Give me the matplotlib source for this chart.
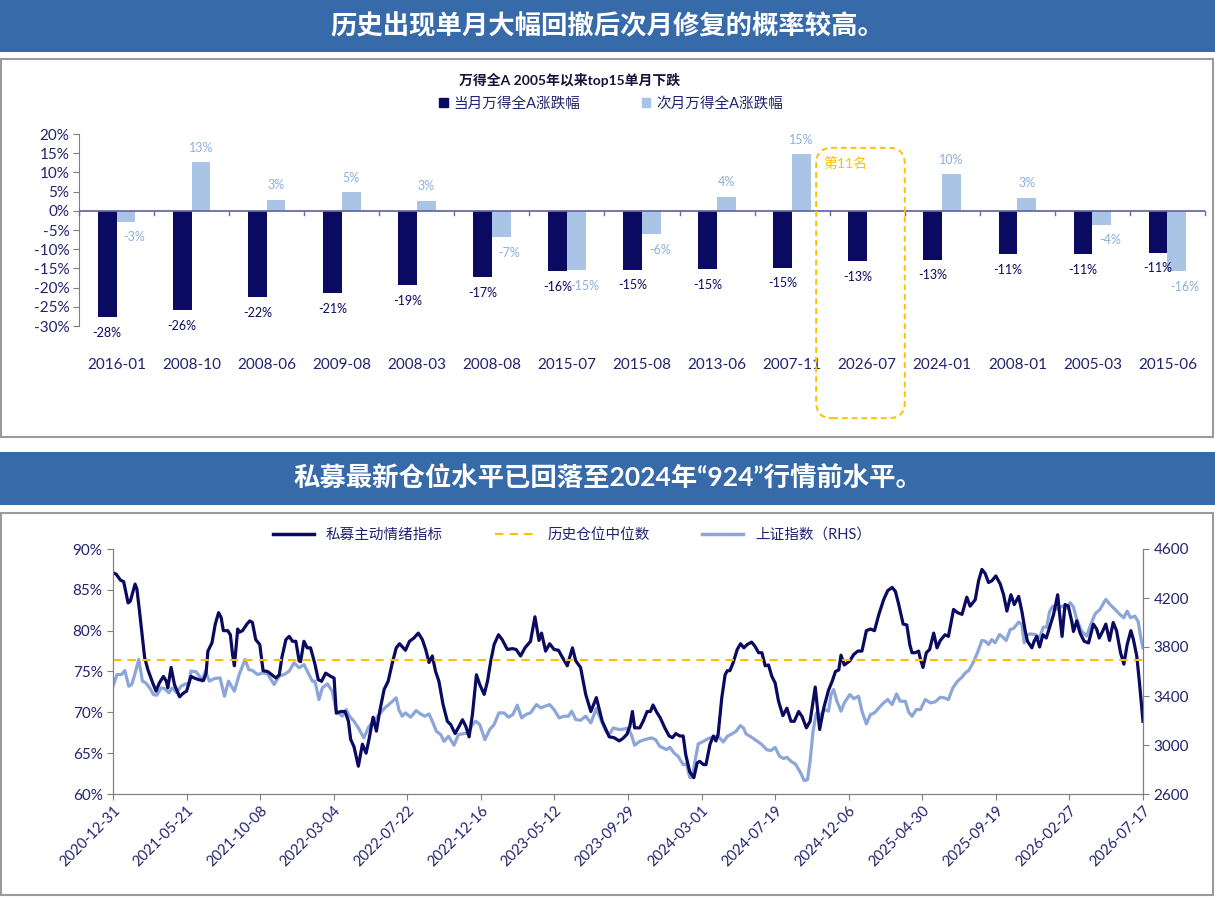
import numpy as np
import matplotlib.pyplot as plt
from matplotlib.patches import Rectangle, FancyBboxPatch, Patch
from matplotlib.lines import Line2D
from matplotlib.transforms import IdentityTransform

plt.rcParams['font.family'] = ['Lato', 'Noto Sans CJK SC', 'DejaVu Sans']

# ---------------- data ----------------
months = ['2016-01', '2008-10', '2008-06', '2009-08', '2008-03', '2008-08', '2015-07', '2015-08',
          '2013-06', '2007-11', '2026-07', '2024-01', '2008-01', '2005-03', '2015-06']
cur_ret = [-27.7, -25.9, -22.4, -21.4, -19.4, -17.3, -15.8, -15.3, -15.2, -14.8, -13.2, -12.7, -11.3, -11.3, -10.9]
next_ret = [-2.8, 12.6, 2.9, 4.9, 2.6, -6.8, -15.4, -6.1, 3.7, 14.8, np.nan, 9.5, 3.4, -3.6, -15.8]
highlight = '2026-07'

date_ticks = ['2020-12-31', '2021-05-21', '2021-10-08', '2022-03-04', '2022-07-22', '2022-12-16',
              '2023-05-12', '2023-09-29', '2024-03-01', '2024-07-19', '2024-12-06', '2025-04-30',
              '2025-09-19', '2026-02-27', '2026-07-17']

# 私募主动情绪指标 (%), x = weekly observation index
sent_week = [0, 0.9, 2, 2.9, 4.1, 4.7, 6, 6.5, 7.2, 8, 8.6, 9.5, 10.8, 11.7, 12.6, 13.7, 14.5, 14.9, 15.8, 16.7,
             18.1, 19, 20, 21.2, 22.1, 23.3, 24.6, 25.3, 25.8, 26.9, 27.8, 28.7, 29.4, 30, 31.2, 31.9, 32.5, 33,
             33.9, 34.3, 35.2, 36.4, 37.2, 37.9, 38.8, 39.9, 40.8, 42, 42.9, 44.3, 45.2, 45.9, 47, 47.9, 48.8,
             49.7, 50.6, 51, 51.9, 52.8, 53.7, 54.9, 55.8, 56.7, 57.8, 59.2, 60.1, 60.7, 61.9, 63.1, 64, 64.6,
             65.5, 66.7, 67.8, 68.8, 69.6, 70.7, 71.6, 72.5, 73.7, 74.8, 75.9, 77, 77.9, 79.5, 80.6, 81.8, 83,
             84.1, 85, 85.9, 86.8, 87.7, 88.6, 89.7, 90.9, 91.8, 93, 94.1, 95, 95.9, 96.8, 97.7, 98.8, 99.7,
             100.9, 101.8, 102.7, 103.6, 104.8, 105.8, 107.2, 108.6, 109.6, 110.8, 112, 113.5, 114.7, 115.8,
             116.5, 117.6, 118.7, 119.9, 121.1, 122.2, 123.5, 124.9, 125.8, 127.1, 128.5, 129.9, 131.4, 133,
             134.9, 136.2, 137.6, 138.6, 139.7, 140.5, 141.2, 141.8, 143.2, 144.1, 145.2, 146.1, 146.8, 147.7,
             148.8, 150, 151.2, 152.1, 153, 154.1, 155, 155.7, 156.8, 157.9, 158.8, 159.5, 160.5, 161.2, 162.3,
             163.2, 163.9, 164.5, 165.5, 166.4, 167, 167.7, 168.6, 169.7, 170.6, 171.5, 172.4, 173.6, 174.5,
             175.5, 176.4, 177.3, 178.2, 179.1, 180, 180.9, 182.1, 183.2, 184.3, 185.2, 186.4, 187.3, 188.5,
             189.5, 190.9, 192.1, 193.2, 194.5, 195.5, 196.4, 197.3, 197.9, 198.8, 200.3, 201.4, 202.5, 203.6,
             204.8, 205.9, 207, 208.2, 209.5, 210.6, 211.8, 212.7, 213.6, 214.8, 215.8, 216.6, 217.2, 218.1,
             219, 219.5, 220.2, 221.1, 222, 223.1, 224, 224.9, 226.2, 227.1, 228.5, 229.6, 230.8, 232.1, 233,
             234.4, 235.3, 236.2, 237.1, 238, 238.9, 240, 241.2, 242.1, 243, 244.1, 245, 246.2, 247.1, 248,
             248.6, 249.8, 250.4, 251.1, 251.9, 252.8, 253.7, 254.6, 255.7, 256.8, 257.3, 258, 258.8, 259.7,
             260.6, 261.1, 262, 262.9, 264, 265.2, 266.5, 267.4, 268.1, 269, 269.9, 270.9, 271.9, 272.8, 273.9,
             274.8, 275.7, 276.7, 277.4, 278.3, 279, 280]
sent_val = [87.1, 86.9, 86.2, 86.0, 83.4, 83.6, 85.7, 85.1, 82.4, 79.1, 76.7, 75.2, 73.6, 72.6, 73.6, 74.4, 73.8,
            73.0, 75.5, 73.4, 71.9, 72.3, 72.6, 74.4, 74.2, 74.0, 73.9, 74.8, 77.5, 78.5, 80.8, 82.2, 81.6, 80.0,
            80.0, 79.5, 77.1, 75.7, 80.2, 79.8, 80.0, 80.8, 81.2, 81.0, 78.9, 78.3, 75.1, 75.0, 74.7, 74.2, 74.6,
            76.7, 78.9, 79.3, 78.7, 78.7, 76.3, 76.2, 78.7, 77.9, 77.9, 75.9, 74.0, 73.8, 74.8, 74.4, 74.2, 69.9,
            70.1, 70.1, 68.9, 66.7, 65.8, 63.4, 66.1, 65.0, 66.7, 69.4, 67.7, 70.1, 72.8, 73.8, 76.0, 77.9, 78.4,
            77.6, 78.7, 79.1, 79.7, 78.9, 77.7, 76.1, 76.9, 75.0, 73.8, 71.0, 68.9, 68.5, 67.4, 68.3, 69.1, 68.3,
            67.0, 69.7, 74.6, 73.4, 72.2, 73.8, 76.3, 78.3, 79.5, 78.9, 77.7, 77.8, 77.7, 76.9, 77.9, 78.7, 81.7,
            78.8, 79.7, 77.5, 78.4, 77.7, 77.6, 76.7, 75.7, 77.9, 76.3, 75.5, 72.2, 70.1, 71.8, 68.9, 67.0, 66.9,
            66.5, 66.8, 67.3, 68.3, 70.1, 68.1, 68.1, 68.9, 70.1, 70.1, 70.9, 70.1, 69.3, 68.1, 67.1, 66.9, 67.4,
            67.1, 67.1, 64.8, 62.7, 62.0, 63.8, 64.0, 63.6, 63.6, 66.1, 67.1, 66.5, 67.3, 71.8, 74.6, 75.1, 75.1,
            76.1, 77.7, 78.4, 77.9, 78.3, 78.6, 78.1, 77.3, 77.3, 75.7, 75.8, 74.4, 73.6, 71.4, 69.6, 70.5, 68.9,
            68.9, 70.1, 69.5, 68.1, 68.9, 73.1, 67.9, 70.5, 72.7, 73.8, 75.0, 75.2, 77.0, 75.8, 76.3, 77.1, 77.5,
            77.5, 80.0, 80.2, 80.0, 82.0, 83.8, 84.9, 85.3, 84.8, 83.2, 80.8, 80.7, 78.3, 77.3, 77.3, 77.5, 76.5,
            75.5, 77.3, 77.7, 79.7, 77.9, 78.8, 79.5, 79.3, 82.6, 82.2, 82.0, 84.1, 83.0, 83.8, 86.1, 87.5, 87.0,
            85.9, 86.1, 86.7, 85.7, 84.4, 82.4, 84.4, 83.2, 84.2, 82.3, 79.9, 78.7, 77.9, 78.7, 79.3, 78.0, 79.5,
            79.1, 80.4, 82.0, 84.4, 82.2, 79.3, 83.2, 83.0, 81.2, 79.9, 81.2, 79.7, 78.7, 78.5, 80.8, 80.2, 79.1,
            79.9, 80.8, 78.8, 81.0, 80.0, 77.3, 75.9, 78.3, 80.0, 78.9, 76.9, 73.8, 68.9]
median_pos = 76.4

# 上证指数 (RHS)
sh_week = [0, 1.1, 2.3, 3.2, 4.3, 5.1, 5.9, 7, 8, 8.9, 10, 11, 11.9, 13.1, 14, 15.2, 16.1, 17.3, 18.5, 19.7, 20.6,
           21.2, 22.6, 23.5, 24.2, 25.1, 26.2, 27.6, 29.1, 30.3, 31.4, 33, 34.3, 35.9, 36.9, 37.9, 39.3, 40.7, 42,
           43.8, 45.2, 46.5, 47.9, 49.2, 50.6, 51.9, 52.8, 54.2, 54.9, 56, 56.9, 58.3, 59.6, 60.7, 62.3, 63.4,
           64.3, 65.5, 66.7, 68.2, 69.6, 70.9, 72.3, 73.9, 75.5, 77, 77.7, 78.6, 79.5, 80.9, 82.4, 83.6, 84.8,
           85.9, 87, 87.9, 89.1, 90, 91.2, 92.7, 93.9, 95.4, 96.6, 97.7, 98.6, 99.7, 101.1, 102.4, 103.6, 104.9,
           106.3, 107.5, 108.7, 109.9, 111.1, 112.2, 113.5, 115.1, 116.3, 117.4, 118.7, 119.9, 121.3, 122.6,
           123.8, 124.7, 125.8, 127.1, 128.5, 129.9, 131.4, 132.6, 134, 134.9, 136, 137.6, 139.1, 140, 140.9,
           141.8, 143.2, 144.5, 146.4, 147.5, 148.6, 150.5, 151.4, 152.5, 153.6, 155, 155.9, 156.8, 157.5, 158.2,
           159.1, 160.5, 161.8, 163.2, 164.5, 165.9, 167, 168.2, 169.4, 170.5, 171.4, 172.1, 173.2, 174.1, 175.2,
           176.4, 177.7, 178.8, 180, 181.2, 182.3, 183.2, 184.3, 185.5, 186.8, 187.9, 188.8, 189.5, 190.3, 191.2,
           192.1, 193.4, 194.5, 195.2, 195.9, 196.8, 197.9, 198.8, 200.3, 201.4, 202.7, 203.6, 204.8, 205.9, 207,
           208.2, 209.5, 210.6, 211.8, 213, 214, 215.4, 216.3, 217.2, 218.4, 219.5, 220.8, 222.2, 223.5, 224.9,
           226, 227.1, 228.3, 229.6, 230.8, 231.7, 232.6, 233.8, 235, 236.2, 237.1, 238, 238.9, 239.8, 241,
           241.9, 242.8, 243.9, 244.8, 246.2, 247.1, 247.7, 248.4, 249.3, 250.7, 251.9, 252.9, 253.8, 254.6,
           255.5, 256.6, 258, 259.1, 260.2, 261.1, 262, 263.3, 264.7, 265.8, 267, 268.3, 269.9, 271, 272.4,
           273.7, 274.8, 275.7, 276.6, 277.8, 278.7, 279.4, 280]
sh_val = [3480, 3575, 3575, 3608, 3480, 3494, 3575, 3698, 3521, 3507, 3466, 3412, 3406, 3466, 3461, 3426, 3466,
          3426, 3480, 3499, 3499, 3603, 3597, 3562, 3521, 3603, 3521, 3543, 3548, 3398, 3521, 3439, 3575, 3698,
          3616, 3608, 3575, 3589, 3581, 3494, 3562, 3575, 3603, 3671, 3630, 3657, 3603, 3521, 3521, 3371, 3466,
          3499, 3439, 3276, 3235, 3289, 3235, 3194, 3139, 3058, 3153, 3194, 3248, 3303, 3344, 3385, 3289, 3235,
          3262, 3227, 3281, 3254, 3235, 3254, 3180, 3112, 3085, 3030, 3071, 2998, 3085, 3093, 3099, 3167, 3194,
          3167, 3044, 3126, 3167, 3262, 3262, 3227, 3248, 3325, 3221, 3248, 3262, 3330, 3303, 3316, 3330, 3289,
          3221, 3235, 3235, 3276, 3208, 3202, 3235, 3180, 3297, 3208, 3112, 3085, 3139, 3126, 3131, 3139, 3085,
          2998, 3030, 3044, 3058, 3044, 2990, 2962, 2981, 2935, 2908, 2840, 2845, 2736, 2736, 2867, 3009, 3030,
          3052, 3066, 3071, 3025, 3071, 3090, 3112, 3158, 3139, 3090, 3071, 3052, 3030, 3003, 2962, 2954, 2981,
          2908, 2889, 2900, 2867, 2845, 2780, 2709, 2717, 2867, 3112, 3262, 3235, 3289, 3276, 3412, 3453, 3357,
          3276, 3344, 3412, 3379, 3398, 3276, 3172, 3248, 3262, 3303, 3344, 3371, 3330, 3417, 3357, 3357, 3270,
          3235, 3289, 3289, 3371, 3344, 3352, 3390, 3385, 3371, 3466, 3521, 3554, 3589, 3608, 3671, 3753, 3853,
          3848, 3820, 3861, 3834, 3902, 3881, 3853, 3943, 3951, 4003, 3984, 3834, 3896, 3907, 3902, 3875, 3962,
          3962, 4088, 4134, 4107, 4134, 4115, 4161, 4126, 4025, 3930, 3889, 3984, 4071, 4107, 4189, 4148, 4107,
          4066, 4039, 4093, 4039, 4052, 4006, 3875, 3793]

# ---------------- style ----------------
BANNER = '#376AA9'
NAVY = '#0A0A60'
LIGHT = '#A9C4E5'
LINE_LIGHT = '#8CA6D8'
GOLD = '#FFC000'
TXT = '#22226E'
AXIS = '#7F7F7F'

W, H = 1215, 897
fig = plt.figure(figsize=(W / 100, H / 100), dpi=100)


def fx(px):
    return px / W


def fy(py):
    return 1 - py / H


def banner(top, bottom, text):
    fig.add_artist(Rectangle((0, fy(bottom)), 1, (bottom - top) / H, transform=fig.transFigure,
                             facecolor=BANNER, edgecolor='none'))
    fig.text(0.5, fy((top + bottom) / 2), text, color='white', fontsize=19, fontweight='bold',
             ha='center', va='center')


def panel(top, bottom):
    fig.add_artist(Rectangle((fx(1), fy(bottom)), fx(1212), (bottom - top) / H, transform=fig.transFigure,
                             facecolor='none', edgecolor='#9A9A9A', lw=1.5))


banner(0, 52, '历史出现单月大幅回撤后次月修复的概率较高。')
panel(59, 437)
banner(452, 505, '私募最新仓位水平已回落至2024年“924”行情前水平。')
panel(513, 895)

# ---------------- top: bar chart ----------------
ax1 = fig.add_axes([fx(79), fy(326), fx(1205) - fx(79), (326 - 134) / H])
x = np.arange(len(months))
cur = np.array(cur_ret)
nxt = np.array(next_ret)
ax1.bar(x - 0.125, cur, 0.25, color=NAVY, zorder=2)
ax1.bar(x + 0.125, nxt, 0.25, color=LIGHT, zorder=2)
ax1.set_xlim(-0.5, len(months) - 0.5)
ax1.set_ylim(-30, 20)
ax1.set_yticks(np.arange(-30, 21, 5))
ax1.set_yticklabels([f'{v}%' for v in range(-30, 21, 5)])
ax1.set_xticks(x)
ax1.set_xticklabels(months)
ax1.tick_params(axis='x', length=0, pad=23, labelsize=11, labelcolor=TXT)
ax1.tick_params(axis='y', length=4, color=AXIS, labelsize=11, labelcolor=TXT, pad=3)
for s in ['top', 'right', 'bottom']:
    ax1.spines[s].set_visible(False)
ax1.spines['left'].set_color(AXIS)
ax1.axhline(0, color='#6A6AA6', lw=1.3, zorder=3)
for b in np.arange(-0.5, len(months)):
    ax1.plot([b, b], [0, -1.2], color='#6A6AA6', lw=1, zorder=3, clip_on=False)

for i, v in enumerate(cur):
    ax1.annotate(f'{v:.0f}%', (i - 0.125, v), xytext=(0, -7), textcoords='offset points',
                 ha='center', va='top', fontsize=9, color=NAVY)
for i, v in enumerate(nxt):
    if np.isnan(v):
        continue
    if v >= 0:
        ax1.annotate(f'{v:.0f}%', (i + 0.125, v), xytext=(0, 6), textcoords='offset points',
                     ha='center', va='bottom', fontsize=9, color='#8FAEDC')
    else:
        ax1.annotate(f'{v:.0f}%', (i + 0.125, v), xytext=(6, -7), textcoords='offset points',
                     ha='center', va='top', fontsize=9, color='#8FAEDC')

fig.text(fx(570), fy(80), '万得全A 2005年以来top15单月下跌', ha='center', va='center',
         fontsize=10, fontweight='bold', color='#14143C')
fig.legend([Patch(color=NAVY), Patch(color=LIGHT)], ['当月万得全A涨跌幅', '次月万得全A涨跌幅'],
           loc='center', bbox_to_anchor=(fx(611), fy(104)), ncol=2, frameon=False, fontsize=10.5,
           handlelength=0.6, handleheight=0.6, handletextpad=0.4, columnspacing=4.2, labelcolor=TXT)

# highlight box around 2026-07
hl = months.index(highlight)
px0, py0 = ax1.transData.transform((hl - 0.68, -54))
px1, py1 = ax1.transData.transform((hl + 0.5, 16.4))
fig.add_artist(FancyBboxPatch((px0, py0), px1 - px0, py1 - py0,
                              boxstyle='round,pad=0,rounding_size=16', transform=IdentityTransform(),
                              facecolor='none', edgecolor=GOLD, lw=1.4, ls=(0, (3, 2))))
fig.text(px0 + 7, py1 - 16, '第11名', transform=IdentityTransform(), ha='left', va='center',
         fontsize=10, color=GOLD)

# ---------------- bottom: line chart ----------------
ax2 = fig.add_axes([fx(113), fy(794), (1143 - 113) / W, (794 - 549) / H])
axr = ax2.twinx()
axr.plot(sh_week, sh_val, color=LINE_LIGHT, lw=2.3, solid_joinstyle='round')
ax2.plot(sent_week, sent_val, color=NAVY, lw=2.3, solid_joinstyle='round')
ax2.axhline(median_pos, color=GOLD, lw=1.5, ls=(0, (4, 3)))
ax2.set_zorder(axr.get_zorder() + 1)
ax2.patch.set_visible(False)

ax2.set_xlim(0, 280)
ax2.set_ylim(60, 90)
ax2.set_yticks(np.arange(60, 91, 5))
ax2.set_yticklabels([f'{v}%' for v in range(60, 91, 5)])
axr.set_ylim(2600, 4600)
axr.set_yticks(np.arange(2600, 4601, 400))
ax2.set_xticks(np.arange(0, 281, 20))
ax2.set_xticklabels(date_ticks, rotation=45, ha='right', rotation_mode='anchor')
ax2.tick_params(axis='x', length=4, color=AXIS, labelsize=10.5, labelcolor=TXT, pad=3)
ax2.tick_params(axis='y', length=4, color=AXIS, labelsize=11, labelcolor=TXT)
axr.tick_params(axis='y', length=4, color=AXIS, labelsize=11, labelcolor=TXT)
for a in (ax2, axr):
    a.spines['top'].set_visible(False)
    for s in ['left', 'right', 'bottom']:
        a.spines[s].set_color(AXIS)

handles = [Line2D([], [], color=NAVY, lw=2.5),
           Line2D([], [], color=GOLD, lw=1.5, ls=(0, (4, 3))),
           Line2D([], [], color=LINE_LIGHT, lw=2.5)]
fig.legend(handles, ['私募主动情绪指标', '历史仓位中位数', '上证指数（RHS）'], loc='center',
           bbox_to_anchor=(fx(572), fy(535)), ncol=3, frameon=False, fontsize=10.5,
           handlelength=2.8, handletextpad=0.8, columnspacing=3.6, labelcolor=TXT)

fig.savefig('out.png', dpi=100)
